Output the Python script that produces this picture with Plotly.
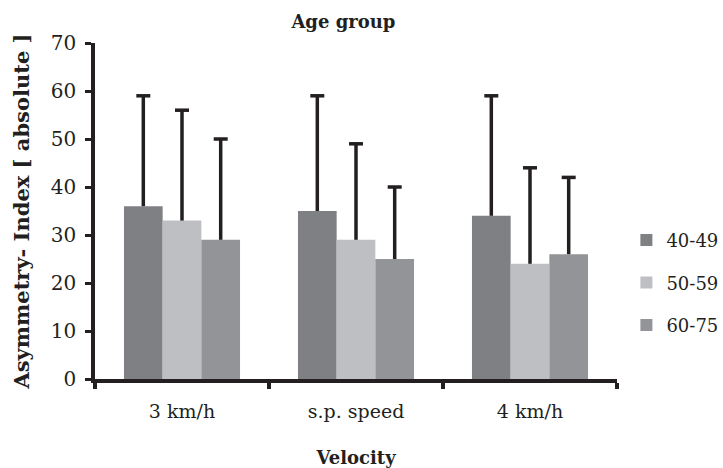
import plotly.graph_objects as go

categories = ["3 km/h", "s.p. speed", "4 km/h"]
groups = ["40-49", "50-59", "60-75"]
means = {
    "40-49": [36, 35, 34],
    "50-59": [33, 29, 24],
    "60-75": [29, 25, 26],
}
errors_plus = {
    "40-49": [23, 24, 25],
    "50-59": [23, 20, 20],
    "60-75": [21, 15, 16],
}
colors = {"40-49": "#7f8084", "50-59": "#bebfc2", "60-75": "#939497"}

font_family = "DejaVu Serif"
ink = "#231f20"

fig = go.Figure()
for g in groups:
    fig.add_trace(go.Bar(
        name=g, x=categories, y=means[g], offsetgroup=g, legendgroup=g,
        marker=dict(color=colors[g], line=dict(width=0)),
        error_y=dict(type="data", array=errors_plus[g], arrayminus=[0] * 3,
                     symmetric=False, color=ink, thickness=3.5, width=0),
    ))
for g in groups:
    tops = [m + e for m, e in zip(means[g], errors_plus[g])]
    fig.add_trace(go.Scatter(
        x=categories, y=tops, offsetgroup=g, mode="markers", showlegend=False,
        hoverinfo="skip",
        marker=dict(symbol="line-ew", size=10, line=dict(color=ink, width=3.5)),
    ))

fig.update_layout(
    width=723, height=468,
    margin=dict(l=95, r=106, t=43, b=89, autoexpand=False),
    paper_bgcolor="white", plot_bgcolor="white",
    barmode="group", bargap=0.333, bargroupgap=0,
    scattermode="group", scattergap=0.333,
    font=dict(family=font_family, color=ink, size=18),
    title=dict(text="<b>Age group</b>", x=0.475, xanchor="center", y=0.953, yanchor="middle",
               font=dict(size=18, family=font_family)),
    legend=dict(x=1.018, y=0.286, xanchor="left", yanchor="middle",
                font=dict(size=18, family=font_family), tracegroupgap=16, itemwidth=30),
    showlegend=True,
)
fig.update_xaxes(
    automargin=False,
    showline=True, linecolor=ink, linewidth=3.5,
    ticks="outside", tickson="boundaries", ticklen=6, tickwidth=3.5, tickcolor=ink,
    ticklabelstandoff=12,
    title=dict(text="<b>Velocity</b>", font=dict(size=18, family=font_family), standoff=34),
    tickfont=dict(size=19, family=font_family),
    showgrid=False,
)
fig.update_yaxes(
    automargin=False,
    range=[0, 70], dtick=10, showline=True, linecolor=ink, linewidth=3.5,
    ticks="outside", ticklen=6, tickwidth=3, tickcolor=ink,
    ticklabelstandoff=5,
    title=dict(text="<b>Asymmetry- Index [ absolute ]</b>", font=dict(size=21, family=font_family), standoff=16),
    tickfont=dict(size=20, family=font_family),
    showgrid=False, zeroline=False,
)

fig.write_html("out.html")
